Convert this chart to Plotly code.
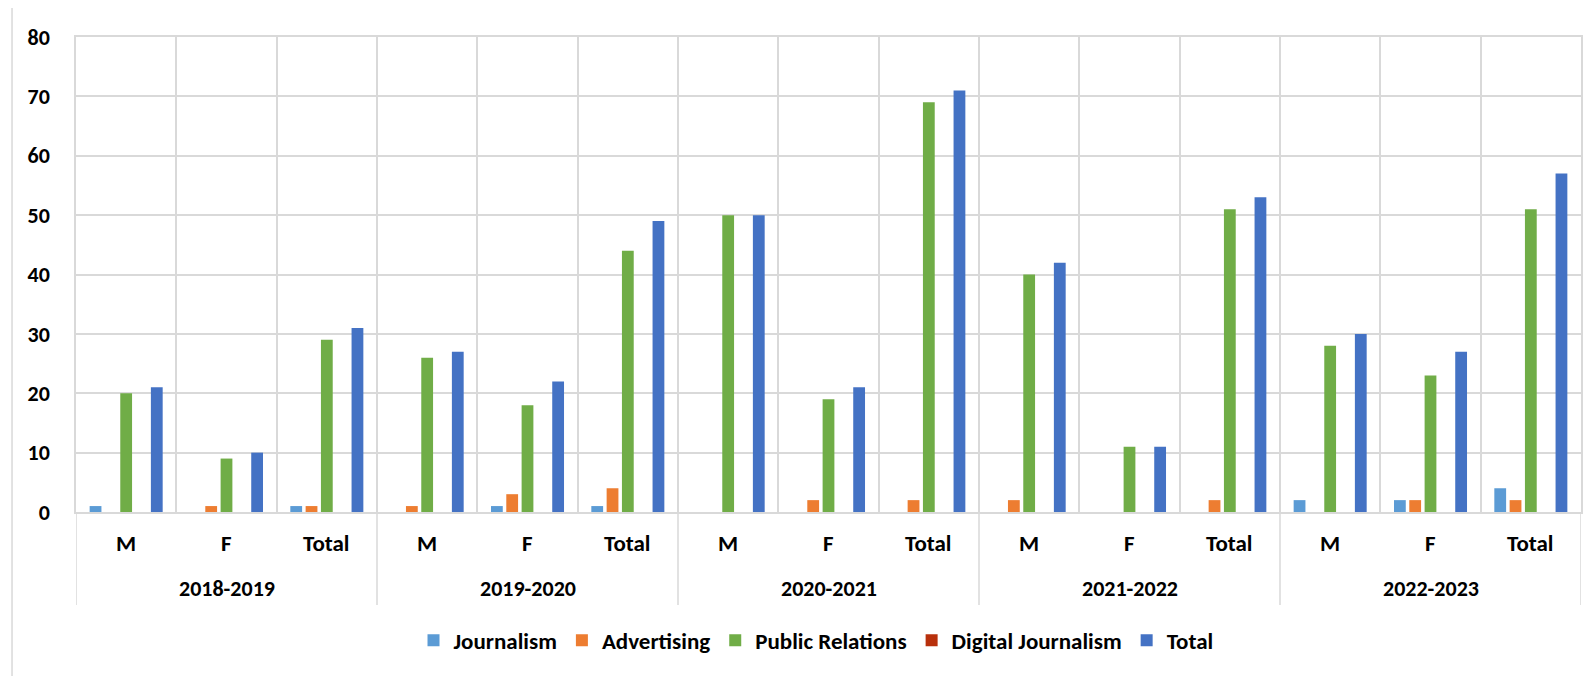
import plotly.graph_objects as go

years = ["2018-2019", "2019-2020", "2020-2021", "2021-2022", "2022-2023"]
sub_labels = ["M", "F", "Total"]

journalism = [1, 0, 1, 0, 1, 1, 0, 0, 0, 0, 0, 0, 2, 2, 4]
advertising = [0, 1, 1, 1, 3, 4, 0, 2, 2, 2, 0, 2, 0, 2, 2]
public_relations = [20, 9, 29, 26, 18, 44, 50, 19, 69, 40, 11, 51, 28, 23, 51]
digital_journalism = [0, 0, 0, 0, 0, 0, 0, 0, 0, 0, 0, 0, 0, 0, 0]
total = [21, 10, 31, 27, 22, 49, 50, 21, 71, 42, 11, 53, 30, 27, 57]

series_names = ["Journalism", "Advertising", "Public Relations", "Digital Journalism", "Total"]
series_values = [journalism, advertising, public_relations, digital_journalism, total]
colors = ["#5B9BD5", "#ED7D31", "#70AD47", "#B8300C", "#4472C4"]

categories = [(y, s) for y in years for s in sub_labels]
xpos = list(range(len(categories)))

FONT = "Carlito, Calibri, Lato, 'Open Sans', sans-serif"
GRID = "#D9D9D9"
LBL = 22

fig = go.Figure()
for name, vals, col in zip(series_names, series_values, colors):
    fig.add_trace(go.Bar(
        x=xpos, y=vals, name=name,
        marker=dict(color=col, line=dict(width=0)),
        hovertext=[f"{c[0]} {c[1]}" for c in categories],
    ))

n = len(categories)
fig.update_layout(
    width=1586, height=668,
    margin=dict(l=68, r=13, t=29, b=164),
    paper_bgcolor="white", plot_bgcolor="white",
    barmode="group", bargap=0.237, bargroupgap=0.23,
    font=dict(family=FONT, size=LBL, color="black", weight="bold"),
    showlegend=True,
    legend=dict(orientation="h", x=0.4917, xanchor="center", y=-0.27, yanchor="middle",
                font=dict(family=FONT, size=23, color="black", weight="bold"),
                itemwidth=30, traceorder="normal"),
    xaxis=dict(range=[-0.5, n - 0.5], tickvals=[i - 0.5 for i in range(n + 1)],
               showticklabels=False, showgrid=True, gridcolor=GRID, gridwidth=1.5,
               showline=True, linecolor=GRID, linewidth=1.5, mirror=True,
               zeroline=False, ticks=""),
    yaxis=dict(range=[0, 80], dtick=10, showgrid=True, gridcolor=GRID, gridwidth=1.5,
               showline=True, linecolor=GRID, linewidth=1.5, mirror=True,
               zeroline=False, ticks="", ticklabelstandoff=20,
               tickfont=dict(family=FONT, size=LBL, color="black", weight="bold")),
)

# sub-category labels
for i, (y, s) in enumerate(categories):
    fig.add_annotation(x=i, y=-0.066, xref="x", yref="paper", text=s, showarrow=False,
                       font=dict(family=FONT, size=23, color="black", weight="bold"),
                       yanchor="middle")

# year labels and separators
k = len(sub_labels)
for gi, y in enumerate(years):
    fig.add_annotation(x=gi * k + (k - 1) / 2, y=-0.16, xref="x", yref="paper", text=y,
                       showarrow=False, yanchor="middle",
                       font=dict(family=FONT, size=LBL, color="black", weight="bold"))
for gi in range(len(years) + 1):
    fig.add_shape(type="line", xref="x", yref="paper", x0=gi * k - 0.5, x1=gi * k - 0.5,
                  y0=0, y1=-0.196, line=dict(color=GRID, width=1.5))

# outer chart border
fig.add_shape(type="rect", xref="paper", yref="paper", x0=-0.0425, x1=1.3, y0=-0.6, y1=1.063,
              line=dict(color=GRID, width=1.5), fillcolor="rgba(0,0,0,0)", layer="below")

fig.write_html("out.html")
